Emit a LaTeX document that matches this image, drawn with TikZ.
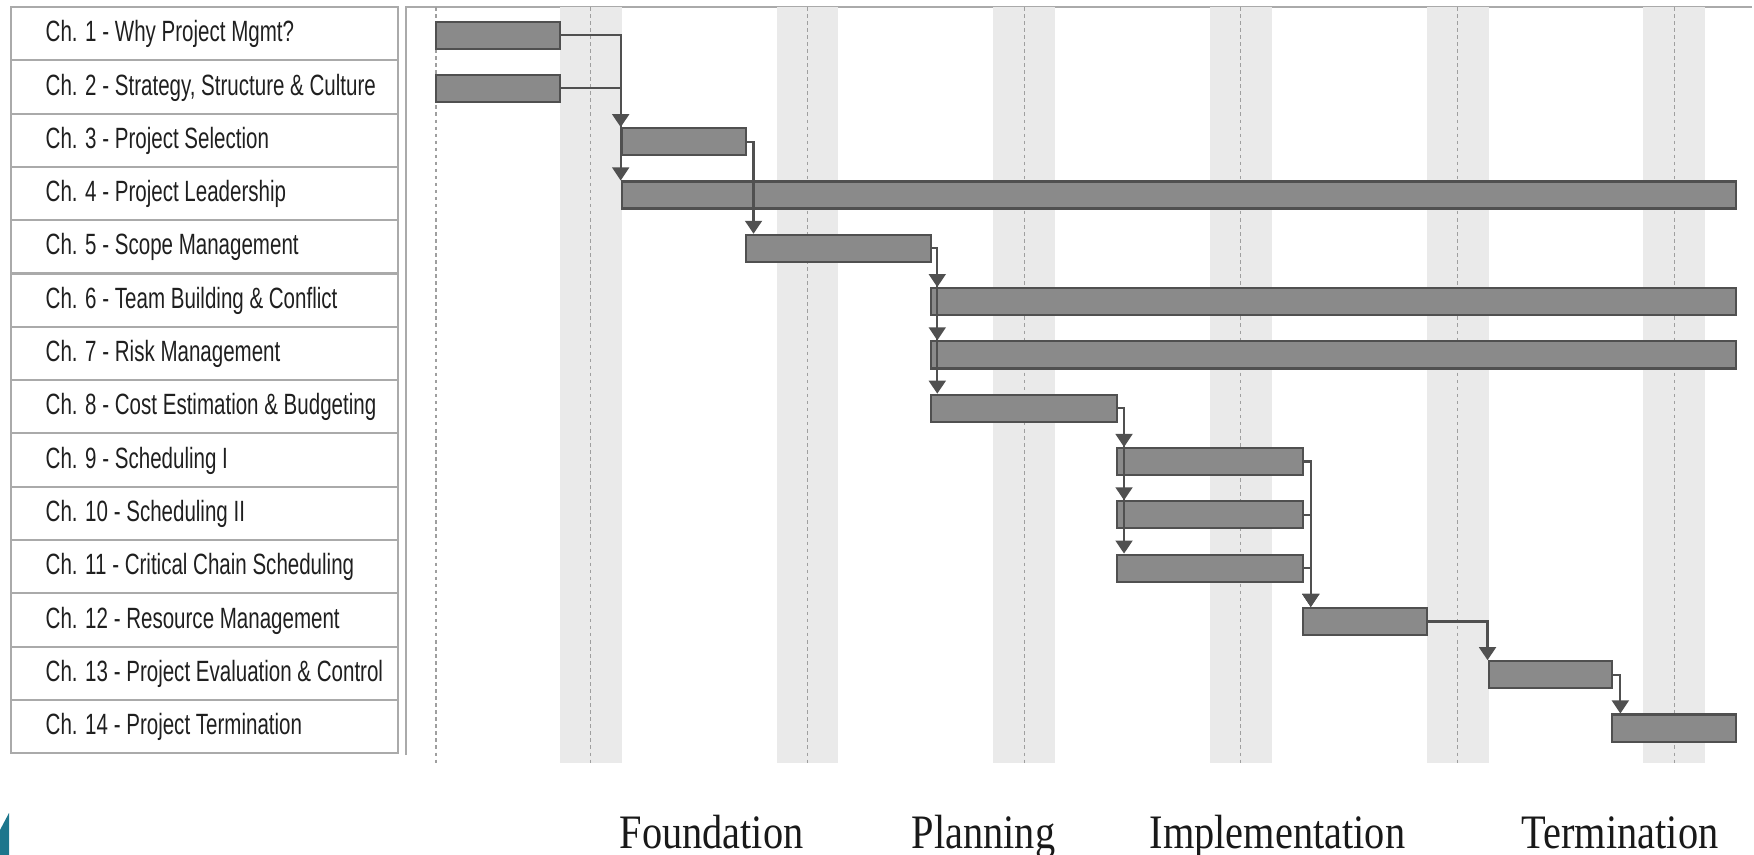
\documentclass[tikz,border=0pt]{standalone}
\usepackage{fontspec}
\usetikzlibrary{arrows.meta}
\newfontfamily\labelfont[FakeStretch=0.70]{Liberation Sans}
\newfontfamily\phasefont[FakeStretch=0.84]{Liberation Serif}
\definecolor{barfill}{RGB}{138,138,138}
\definecolor{barline}{RGB}{80,80,80}
\definecolor{linkcol}{RGB}{80,80,80}
\definecolor{gridgray}{RGB}{170,170,170}
\definecolor{offdayfill}{RGB}{234,234,234}
\definecolor{slideteal}{RGB}{28,118,140}
\newcommand{\dayw}{0.3094cm}
\tikzset{
  chlabel/.style={font={\labelfont\fontsize{8.34}{10}\selectfont},text=black!88,inner sep=0pt,anchor=base west},
  phase/.style={font={\phasefont\fontsize{13.66}{16}\selectfont},text=black!90,inner sep=0pt,anchor=base west},
  bar/.style={draw=barline,fill=barfill,line width=0.6pt,minimum height=0.27cm,inner sep=0pt},
  link/.style={draw=linkcol,line width=0.6pt,-{Triangle[width=4.8pt,length=3.7pt]}},
  frame/.style={draw=gridgray,line width=0.6pt},
  offday/.style={fill=offdayfill},
  daymark/.style={draw=gray!75,line width=0.3pt,dash pattern=on 1pt off 1pt}
}

\begin{document}
\begin{tikzpicture}[x=0.01cm,y=-0.01cm]
\useasboundingbox (0,0) rectangle (1754,855);

% chapter table
\draw[frame] (11,7) rectangle (398,753);
\foreach \k in {1,...,13}
  \draw[frame] (11,{7+53.3*\k}) -- (398,{7+53.3*\k});
      \node[chlabel] (l1) at (45,41.8) {Ch. 1 - Why Project Mgmt?};
      \node[chlabel] (l2) at (45,95.1) {Ch. 2 - Strategy, Structure \& Culture};
      \node[chlabel] (l3) at (45,148.4) {Ch. 3 - Project Selection};
      \node[chlabel] (l4) at (45,201.7) {Ch. 4 - Project Leadership};
      \node[chlabel] (l5) at (45,255.0) {Ch. 5 - Scope Management};
      \node[chlabel] (l6) at (45,308.3) {Ch. 6 - Team Building \& Conflict};
      \node[chlabel] (l7) at (45,361.6) {Ch. 7 - Risk Management};
      \node[chlabel] (l8) at (45,414.9) {Ch. 8 - Cost Estimation \& Budgeting};
      \node[chlabel] (l9) at (45,468.2) {Ch. 9 - Scheduling I};
      \node[chlabel] (l10) at (45,521.5) {Ch. 10 - Scheduling II};
      \node[chlabel] (l11) at (45,574.8) {Ch. 11 - Critical Chain Scheduling};
      \node[chlabel] (l12) at (45,628.1) {Ch. 12 - Resource Management};
      \node[chlabel] (l13) at (45,681.4) {Ch. 13 - Project Evaluation \& Control};
      \node[chlabel] (l14) at (45,734.7) {Ch. 14 - Project Termination};

% chart frame
\draw[frame] (406,755) |- (1752,7);

\begin{scope}[shift={(436,0)},x=\dayw]
% weekends and start line
\foreach \w in {0,...,5} {
  \fill[offday] ({4+7*\w},7) rectangle ({6+7*\w},763);
  \draw[daymark] ({5+7*\w},7) -- ({5+7*\w},763);
}
\draw[daymark] (0,7) -- (0,763);

      \node[bar,minimum width=4*\dayw] (c1) at (2,35.15) {};
      \node[bar,minimum width=4*\dayw] (c2) at (2,88.45) {};
      \node[bar,minimum width=4*\dayw] (c3) at (8,141.75) {};
      \node[bar,minimum width=36*\dayw] (c4) at (24,195.05) {};
      \node[bar,minimum width=6*\dayw] (c5) at (13,248.35) {};
      \node[bar,minimum width=26*\dayw] (c6) at (29,301.65) {};
      \node[bar,minimum width=26*\dayw] (c7) at (29,354.95) {};
      \node[bar,minimum width=6*\dayw] (c8) at (19,408.25) {};
      \node[bar,minimum width=6*\dayw] (c9) at (25,461.55) {};
      \node[bar,minimum width=6*\dayw] (c10) at (25,514.85) {};
      \node[bar,minimum width=6*\dayw] (c11) at (25,568.15) {};
      \node[bar,minimum width=4*\dayw] (c12) at (30,621.45) {};
      \node[bar,minimum width=4*\dayw] (c13) at (36,674.75) {};
      \node[bar,minimum width=4*\dayw] (c14) at (40,728.05) {};

\foreach \a/\b/\jog in {1/3/0,2/4/0,3/5/0.09,5/6/0.07,5/7/0.07,5/8/0.07,8/9/0.08,8/10/0.08,8/11/0.08,9/12/0.09,10/12/0.09,11/12/0.09,12/13/0,13/14/0.09}
  \draw[link] (c\a.east) -| ([xshift=\jog cm]c\b.north west);
\end{scope}

% phases
      \node[phase] (foundation) at (619,848) {Foundation};
      \node[phase] (planning) at (911,848) {Planning};
      \node[phase] (implementation) at (1149,848) {Implementation};
      \node[phase] (termination) at (1521,848) {Termination};

\fill[slideteal] (0,830) -- (9,813) -- (9,855) -- (0,855) -- cycle;
    \end{tikzpicture}
\end{document}
